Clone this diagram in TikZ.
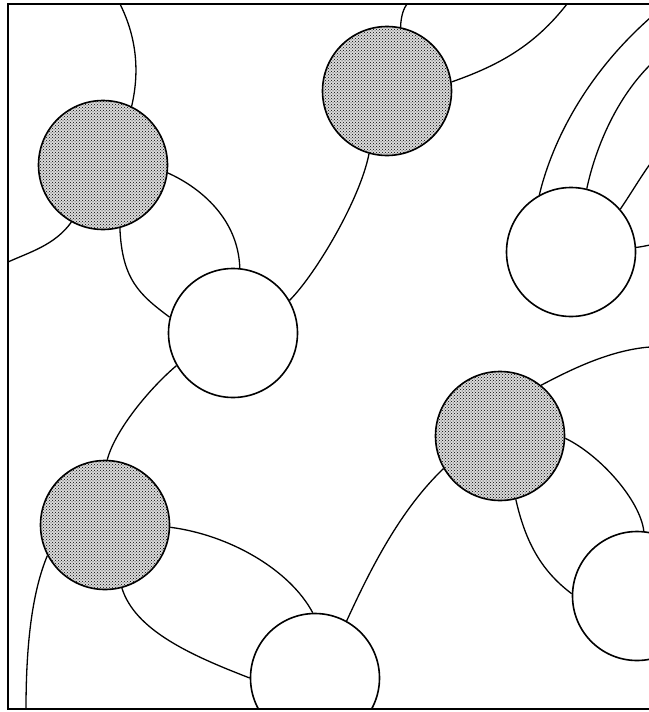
\documentclass[tikz,border=0pt]{standalone}
\usetikzlibrary{patterns}
\begin{document}
\begin{tikzpicture}[x=1pt,y=-1pt,
  hub/.style={circle,draw,line width=1.6pt,minimum size=129pt,inner sep=0pt},
  shaded/.style={hub,preaction={fill=gray!28},pattern=crosshatch dots,pattern color=black},
  plain/.style={hub,fill=white},
  link/.style={line width=1.3pt}]
\useasboundingbox (0,0) rectangle (648,712);
\begin{scope}
\clip (8,4) rectangle (660,709);
% hubs
\node[shaded] (c1) at (103,165) {};
\node[shaded] (c2) at (387,91) {};
\node[plain]  (c3) at (571,252) {};
\node[plain]  (c4) at (233,333) {};
\node[shaded] (c5) at (500,436) {};
\node[shaded] (c6) at (105,525) {};
\node[plain]  (c7) at (315,678) {};
\node[plain]  (c8) at (637,596) {};
% free ends on the frame
\coordinate (t1) at (120,4);
\coordinate (t2) at (407,4);
\coordinate (t3) at (567,4);
\coordinate (l1) at (8,262);
\coordinate (b1) at (26,709);
\coordinate (r1) at (650,18);
\coordinate (r2) at (650,65);
\coordinate (r3) at (650,164);
\coordinate (r4) at (650,245);
\coordinate (r5) at (650,347);
% links
\draw[link] (c1.64) .. controls (139,75) and (138,40) .. (t1);
\draw[link] (c1.241) .. controls (55,245) and (30,252) .. (l1);
\draw[link] (c1.-7) .. controls (195,185) and (238,215) .. (c4.84);
\draw[link] (c1.-75) .. controls (122,280) and (140,295) .. (c4.166);
\draw[link] (c4.30) .. controls (315,275) and (360,200) .. (c2.254);
\draw[link] (c4.210) .. controls (150,388) and (115,430) .. (c6.88);
\draw[link] (c2.78) .. controls (401,15) and (404,8) .. (t2);
\draw[link] (c2.8) .. controls (500,65) and (535,45) .. (t3);
\draw[link] (c3.119) .. controls (550,150) and (580,80) .. (r1);
\draw[link] (c3.76) .. controls (595,150) and (615,100) .. (r2);
\draw[link] (c3.41) .. controls (630,195) and (640,178) .. (r3);
\draw[link] (c3.4) .. controls (640,247) and (645,246) .. (r4);
\draw[link] (c5.51) .. controls (570,370) and (610,350) .. (r5);
\draw[link] (c5.-2) .. controls (600,455) and (640,500) .. (c8.84);
\draw[link] (c5.-76) .. controls (525,540) and (540,570) .. (c8.178);
\draw[link] (c5.210) .. controls (400,510) and (370,570) .. (c7.61);
\draw[link] (c6.-2) .. controls (230,535) and (290,570) .. (c7.92);
\draw[link] (c6.-75) .. controls (135,630) and (190,655) .. (c7.180);
\draw[link] (c6.208) .. controls (33,590) and (26,640) .. (b1);
\end{scope}
\draw[line width=1.5pt] (660,4) -- (8,4) -- (8,709) -- (660,709);
\end{tikzpicture}
\end{document}
